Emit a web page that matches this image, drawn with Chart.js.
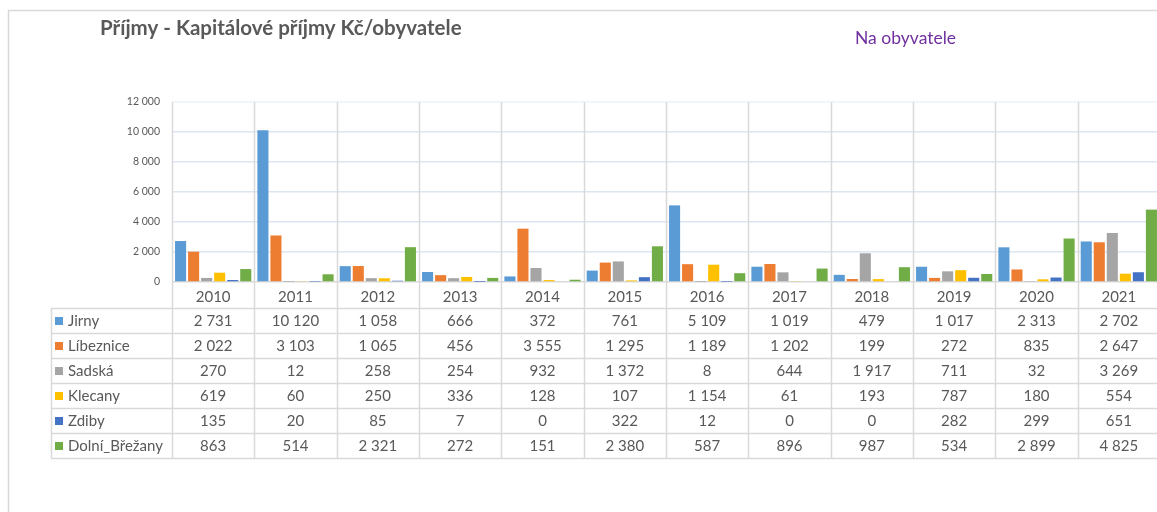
<!DOCTYPE html>
<html><head><meta charset="utf-8">
<script src="https://cdn.jsdelivr.net/npm/chart.js@4/dist/chart.umd.min.js"></script>
<style>
html,body{margin:0;padding:0;background:#fff;overflow:hidden;width:1157px;height:512px;}
#wrap{position:absolute;left:0;top:0;width:1164px;height:512px;}
</style></head><body>
<div id="wrap"><canvas id="c" width="1164" height="512"></canvas></div>
<script>
const years = ['2010','2011','2012','2013','2014','2015','2016','2017','2018','2019','2020','2021'];
const seriesNames = ['Jirny','Líbeznice','Sadská','Klecany','Zdiby','Dolní_Břežany'];
const jirny = [2731,10120,1058,666,372,761,5109,1019,479,1017,2313,2702];
const libeznice = [2022,3103,1065,456,3555,1295,1189,1202,199,272,835,2647];
const sadska = [270,12,258,254,932,1372,8,644,1917,711,32,3269];
const klecany = [619,60,250,336,128,107,1154,61,193,787,180,554];
const zdiby = [135,20,85,7,0,322,12,0,0,282,299,651];
const dolniBrezany = [863,514,2321,272,151,2380,587,896,987,534,2899,4825];
const yTicks = [0,2000,4000,6000,8000,10000,12000];
const titleText = 'Příjmy - Kapitálové příjmy Kč/obyvatele';
const noteText = 'Na obyvatele';

const colors = ['#5B9BD5','#ED7D31','#A5A5A5','#FFC000','#4472C4','#70AD47'];
const seriesValues = [jirny, libeznice, sadska, klecany, zdiby, dolniBrezany];
const FONT = 'Lato, "Open Sans", sans-serif';
const TXT = '#595959';
const LINE = '#d9d9d9';

function fmt(n){ return String(n).replace(/\B(?=(\d{3})+(?!\d))/g,' '); }

const TABLE_TOP = 308, ROW_H = 25, TABLE_LEFT = 51;

const decor = {
  id:'decor',
  beforeDatasetsDraw(chart){
    const ctx = chart.ctx, a = chart.chartArea, n = years.length;
    const w = (a.right - a.left)/n;
    const bottom = TABLE_TOP + ROW_H*seriesNames.length;
    ctx.save();
    ctx.strokeStyle = LINE; ctx.lineWidth = 1.5;
    for(let i=0;i<=n;i++){
      const x = Math.round(a.left + i*w)+0.5;
      ctx.beginPath(); ctx.moveTo(x, a.top); ctx.lineTo(x, bottom); ctx.stroke();
    }
    ctx.restore();
  },
  afterDraw(chart){
    const ctx = chart.ctx, a = chart.chartArea, xs = chart.scales.x;
    const bottom = TABLE_TOP + ROW_H*seriesNames.length;
    ctx.save();
    ctx.strokeStyle = LINE; ctx.lineWidth = 1.5;
    ctx.beginPath(); ctx.moveTo(8.5, 512); ctx.lineTo(8.5, 10.5); ctx.lineTo(chart.width, 10.5); ctx.stroke();
    for(let r=0;r<=seriesNames.length;r++){
      const y = TABLE_TOP + r*ROW_H + 0.5;
      ctx.beginPath(); ctx.moveTo(TABLE_LEFT, y); ctx.lineTo(a.right, y); ctx.stroke();
    }
    ctx.beginPath(); ctx.moveTo(TABLE_LEFT+0.5, TABLE_TOP); ctx.lineTo(TABLE_LEFT+0.5, bottom); ctx.stroke();
    ctx.font = '15px ' + FONT;
    ctx.textBaseline = 'middle';
    for(let r=0;r<seriesNames.length;r++){
      const yc = TABLE_TOP + r*ROW_H + ROW_H/2 + 0.5;
      ctx.fillStyle = colors[r];
      ctx.fillRect(55, yc-4, 8, 8);
      ctx.fillStyle = TXT; ctx.textAlign = 'left';
      ctx.fillText(seriesNames[r], 68, yc);
      ctx.textAlign = 'center';
      for(let i=0;i<years.length;i++){
        ctx.fillText(fmt(seriesValues[r][i]), xs.getPixelForValue(i), yc);
      }
    }
    ctx.textAlign = 'left';
    ctx.fillStyle = TXT;
    ctx.font = 'bold 20.5px ' + FONT;
    ctx.fillText(titleText, 100, 28);
    ctx.fillStyle = '#7030A0';
    ctx.font = '17.5px ' + FONT;
    ctx.fillText(noteText, 855, 38);
    ctx.restore();
  }
};

new Chart(document.getElementById('c'), {
  type:'bar',
  data:{
    labels: years,
    datasets: seriesNames.map((name,i)=>({
      label:name, data:seriesValues[i], backgroundColor:colors[i], borderWidth:0,
      categoryPercentage:0.95, barPercentage:0.85
    }))
  },
  options:{
    responsive:false, animation:false, devicePixelRatio:1,
    layout:{padding:{left:0,right:4,top:102,bottom:204}},
    plugins:{legend:{display:false}, tooltip:{enabled:false}, title:{display:false}},
    scales:{
      x:{
        grid:{display:false, drawTicks:false}, border:{display:false},
        ticks:{color:TXT, font:{family:FONT, size:15}, padding:6, maxRotation:0},
        afterFit(s){ s.height = 26; }
      },
      y:{
        min:0, max:12000,
        afterBuildTicks(s){ s.ticks = yTicks.map(v=>({value:v})); },
        grid:{drawTicks:false, color:(c)=> c.tick && c.tick.value===0 ? LINE : (c.tick && c.tick.value===12000 ? '#eef3f9' : '#dce6f2'), lineWidth:1.5},
        border:{display:false},
        ticks:{color:TXT, font:{family:FONT, size:10.5}, padding:12, callback:(v)=>fmt(v)},
        afterFit(s){ s.width = 172; }
      }
    }
  },
  plugins:[decor]
});
</script></body></html>
